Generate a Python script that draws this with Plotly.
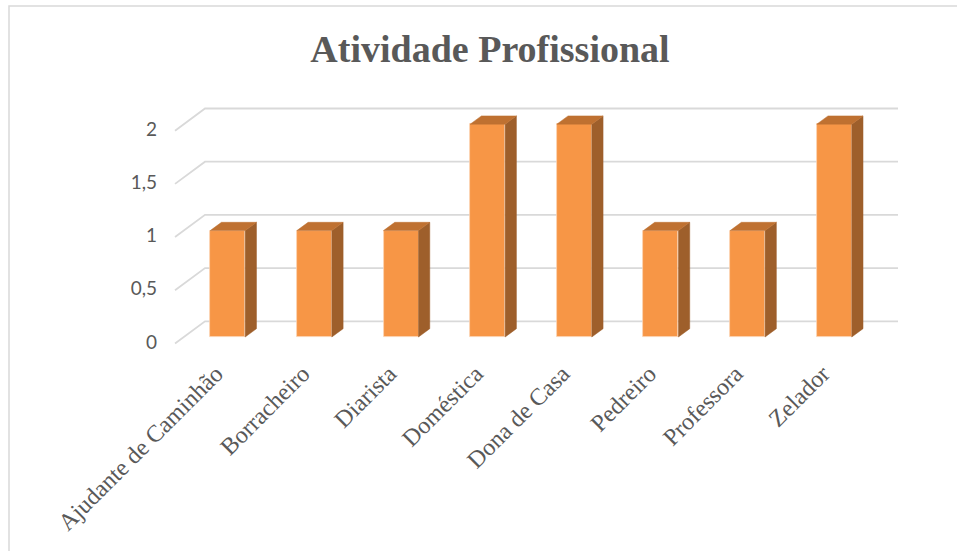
import plotly.graph_objects as go

categories = ["Ajudante de Caminhão", "Borracheiro", "Diarista", "Doméstica",
              "Dona de Casa", "Pedreiro", "Professora", "Zelador"]
values = [1, 1, 1, 2, 2, 1, 1, 2]
ytick_vals = [0, 0.5, 1, 1.5, 2]
ytick_text = ["0", "0,5", "1", "1,5", "2"]

W, H = 957, 551
ML, MR, MT, MB = 158, 30, 90, 197

# pixel mapping of the axes: category 0 front-face centre and value 0 base
X0_PX, X_UNIT = 227.7, 86.65
Y0_PX, Y_UNIT = 337.0, 106.4
XR = [(ML - X0_PX) / X_UNIT, (W - MR - X0_PX) / X_UNIT]
YR = [(Y0_PX - (H - MB)) / Y_UNIT, (Y0_PX - MT) / Y_UNIT]

BAR_W = 0.404          # bar width in category units
DEP_X, DEP_Y = 0.130, 0.078   # 3D depth offset of bar side/top
GRID_FRONT_X, GRID_BACK_X, GRID_RIGHT_X = -0.608, -0.262, 7.736
GRID_FRONT_DY, GRID_BACK_DY = -0.061, 0.1476
LABEL_SHIFT = -0.135

FRONT = "#F79646"
TOP = "#BF7131"
SIDE = "#9E5F2B"
TEXT = "#595959"
GRID = "#D9D9D9"

xs = list(range(len(categories)))

fig = go.Figure()

fig.add_trace(go.Bar(
    x=xs, y=values, width=BAR_W,
    marker=dict(color=FRONT, line=dict(color="#FBD3B3", width=0.8)),
    hoverinfo="skip", showlegend=False,
))

# side and top faces
sx, sy = [], []
tx, ty = [], []
for x, v in zip(xs, values):
    r = x + BAR_W / 2
    l = x - BAR_W / 2
    sx += [r, r + DEP_X, r + DEP_X, r, r, None]
    sy += [0, DEP_Y, v + DEP_Y, v, 0, None]
    tx += [l, r, r + DEP_X, l + DEP_X, l, None]
    ty += [v, v, v + DEP_Y, v + DEP_Y, v, None]

fig.add_trace(go.Scatter(x=sx, y=sy, mode="lines", fill="toself", fillcolor=SIDE,
                         line=dict(color=SIDE, width=0.5), hoverinfo="skip", showlegend=False))
fig.add_trace(go.Scatter(x=tx, y=ty, mode="lines", fill="toself", fillcolor=TOP,
                         line=dict(color=TOP, width=0.5), hoverinfo="skip", showlegend=False))

# perspective gridlines
shapes = []
for v in ytick_vals:
    shapes.append(dict(type="path", xref="x", yref="y", layer="below",
                       path=f"M {GRID_FRONT_X},{v + GRID_FRONT_DY} L {GRID_BACK_X},{v + GRID_BACK_DY} L {GRID_RIGHT_X},{v + GRID_BACK_DY}",
                       line=dict(color=GRID, width=1.8)))

pw = W - ML - MR
ph = H - MT - MB
def px2paper_x(p):
    return (p - ML) / pw
def py2paper_y(p):
    return (H - MB - p) / ph

# chart border
shapes.append(dict(type="rect", xref="paper", yref="paper", layer="below",
                   x0=px2paper_x(9), x1=px2paper_x(970), y0=py2paper_y(570), y1=py2paper_y(6),
                   line=dict(color="#D9D9D9", width=1.5), fillcolor="rgba(0,0,0,0)"))

fig.update_layout(
    width=W, height=H,
    margin=dict(l=ML, r=MR, t=MT, b=MB),
    paper_bgcolor="white", plot_bgcolor="white",
    shapes=shapes,
    title=dict(text="<b>Atividade Profissional</b>", x=490 / W, xanchor="center",
               xref="container", yref="container", y=1 - 49 / H, yanchor="middle",
               font=dict(family="Liberation Serif", size=38, color=TEXT)),
    xaxis=dict(range=XR, tickvals=[x + LABEL_SHIFT for x in xs], ticktext=categories,
               tickangle=-45, showgrid=False, zeroline=False, showline=False, ticks="",
               tickfont=dict(family="Liberation Serif", size=24, color=TEXT)),
    yaxis=dict(range=YR, tickvals=[v + GRID_FRONT_DY + 0.015 for v in ytick_vals],
               ticktext=ytick_text, showgrid=False, zeroline=False, showline=False,
               ticks="", tickfont=dict(family="Lato", size=19, color=TEXT)),
    bargap=0,
)

fig.write_html("out.html")
